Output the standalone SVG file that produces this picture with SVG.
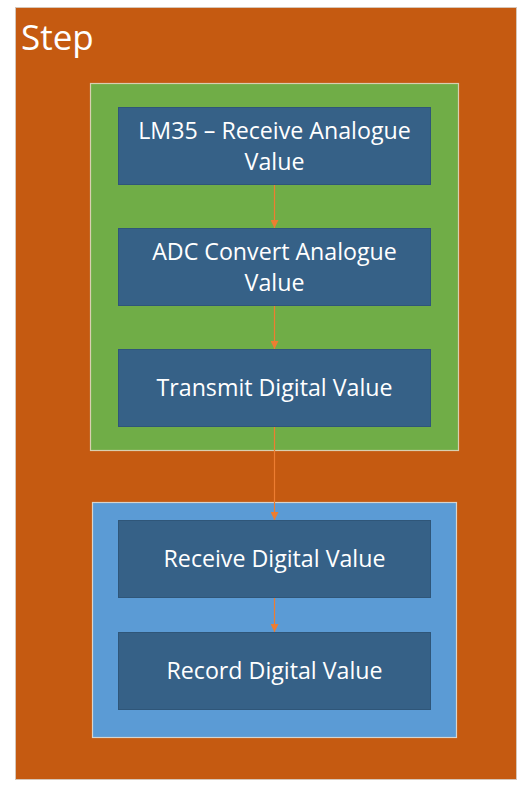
<svg xmlns="http://www.w3.org/2000/svg" width="522" height="788" viewBox="0 0 522 788">
<defs>
<style>
.box{fill:#366187;stroke:#2f5679;stroke-width:1}
.lbl{font-family:"Open Sans","Liberation Sans",sans-serif;font-size:23.2px;fill:#ffffff;text-anchor:middle}
.conn{stroke:#ED7D31;stroke-width:1.2;fill:none}
</style>
<marker id="ah" viewBox="0 0 10 10" refX="10" refY="5" markerWidth="8" markerHeight="8" markerUnits="userSpaceOnUse" orient="auto">
<path d="M0,0 L10,5 L0,10 z" fill="#ED7D31"/>
</marker>
</defs>
<rect width="522" height="788" fill="#ffffff"/>
<g id="step">
<rect x="15.5" y="7.5" width="501" height="772" fill="#C55A11" stroke="#d6c6b8" stroke-width="1"/>
<text x="21" y="50" font-family="Open Sans, Liberation Sans, sans-serif" font-size="35" fill="#ffffff">Step</text>
</g>
<g id="group-sensor">
<rect x="90.5" y="83.5" width="368" height="367" fill="#70AD47" stroke="#d9cfb0" stroke-width="1.2"/>
</g>
<g id="group-receiver">
<rect x="92.5" y="502.5" width="364" height="235" fill="#5B9BD5" stroke="#d8d4cc" stroke-width="1.2"/>
</g>
<g id="n1">
<rect class="box" x="118.5" y="107.5" width="312" height="77"/>
<text class="lbl" x="274.5" y="139">LM35 – Receive Analogue</text>
<text class="lbl" x="274.5" y="170">Value</text>
</g>
<g id="n2">
<rect class="box" x="118.5" y="228.5" width="312" height="77"/>
<text class="lbl" x="274.5" y="260">ADC Convert Analogue</text>
<text class="lbl" x="274.5" y="291">Value</text>
</g>
<g id="n3">
<rect class="box" x="118.5" y="349.5" width="312" height="77"/>
<text class="lbl" x="274.5" y="396">Transmit Digital Value</text>
</g>
<g id="n4">
<rect class="box" x="118.5" y="520.5" width="312" height="77"/>
<text class="lbl" x="274.5" y="567">Receive Digital Value</text>
</g>
<g id="n5">
<rect class="box" x="118.5" y="632.5" width="312" height="77"/>
<text class="lbl" x="274.5" y="679">Record Digital Value</text>
</g>
<g id="connectors">
<line class="conn" x1="274.5" y1="185" x2="274.5" y2="228" marker-end="url(#ah)"/>
<line class="conn" x1="274.5" y1="306" x2="274.5" y2="349" marker-end="url(#ah)"/>
<line class="conn" x1="274.5" y1="427" x2="274.5" y2="520" marker-end="url(#ah)"/>
<line class="conn" x1="274.5" y1="598" x2="274.5" y2="632" marker-end="url(#ah)"/>
</g>
</svg>
